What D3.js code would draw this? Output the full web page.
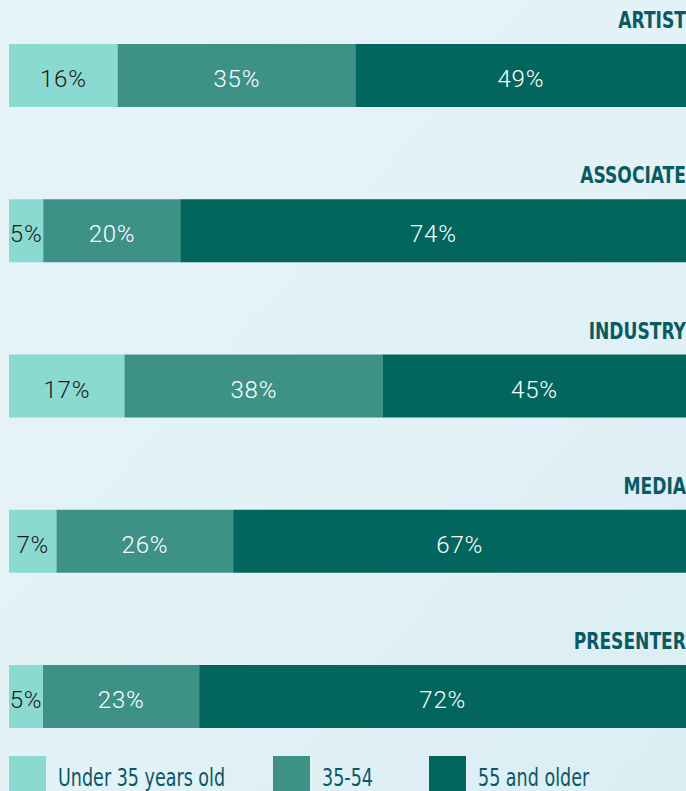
<!DOCTYPE html>
<html><head><meta charset="utf-8">
<script src="https://cdn.jsdelivr.net/npm/d3@7"></script>
<style>
html,body{margin:0;padding:0;}
body{width:686px;height:791px;overflow:hidden;background:#e2f1f7;}
</style></head>
<body>
<svg id="chart" width="686" height="791"></svg>
<script>
const categories = ["ARTIST","ASSOCIATE","INDUSTRY","MEDIA","PRESENTER"];
const seriesNames = ["Under 35 years old","35-54","55 and older"];
const under35 = [16,5,17,7,5];
const mid3554 = [35,20,38,26,23];
const over55 = [49,74,45,67,72];
const colors = ["#8adad2","#3e9187","#02665e"];
const textColors = ["#1b1b1b","#ffffff","#ffffff"];

const svg = d3.select("#chart");
const W = 686, H = 791;

const defs = svg.append("defs");
const g1 = defs.append("linearGradient").attr("id","bg1").attr("x1","0").attr("y1","0").attr("x2","1").attr("y2","1");
g1.append("stop").attr("offset","0").attr("stop-color","#e6f3f8");
g1.append("stop").attr("offset","0.5").attr("stop-color","#e3f2f7");
g1.append("stop").attr("offset","1").attr("stop-color","#daeef4");
svg.append("rect").attr("width",W).attr("height",H).attr("fill","url(#bg1)");

const rows = categories.map((c,i)=>({cat:c, vals:[under35[i],mid3554[i],over55[i]]}));

const bandH = 63;
const yTop = d3.scalePoint().domain(categories).range([44,665]);

const condensed = "'DejaVu Sans Condensed','Liberation Sans Narrow',sans-serif";

rows.forEach(r=>{
  const total = d3.sum(r.vals);
  const x = d3.scaleLinear().domain([0,total]).range([9,689]);
  let acc=0;
  const segs = r.vals.map((v,j)=>{const s={x0:acc,x1:acc+v,v:v,j:j}; acc+=v; return s;});
  const g = svg.append("g");
  g.selectAll("rect").data(segs).join("rect")
    .attr("x",d=>x(d.x0)).attr("width",d=>x(d.x1)-x(d.x0)+(d.j<2?0.5:0))
    .attr("y",yTop(r.cat)).attr("height",bandH)
    .attr("fill",d=>colors[d.j]);
  g.selectAll("text").data(segs).join("text")
    .attr("x",d=>(x(d.x0)+Math.min(x(d.x1),686))/2)
    .attr("y",yTop(r.cat)+bandH/2+11.5)
    .attr("text-anchor","middle")
    .attr("font-family","Roboto, 'Noto Sans', sans-serif")
    .attr("font-weight",300)
    .attr("font-size",24)
    .attr("letter-spacing",0.8)
    .attr("fill",d=>textColors[d.j])
    .text(d=>d.v+"%");
  svg.append("text")
    .attr("transform",`translate(686,${yTop(r.cat)-16}) scale(0.81,1)`)
    .attr("text-anchor","end")
    .attr("font-family",condensed)
    .attr("font-weight",700)
    .attr("font-size",23.5)
    .attr("fill","#0b5a62")
    .text(r.cat);
});

const legX = [9,273,429];
const lg = svg.append("g");
seriesNames.forEach((s,i)=>{
  lg.append("rect").attr("x",legX[i]).attr("y",756).attr("width",37).attr("height",40).attr("fill",colors[i]);
  lg.append("text").attr("transform",`translate(${legX[i]+49},786) scale(0.78,1)`)
    .attr("font-family",condensed)
    .attr("font-size",25).attr("fill","#0b5864").text(s);
});
</script>
</body></html>
